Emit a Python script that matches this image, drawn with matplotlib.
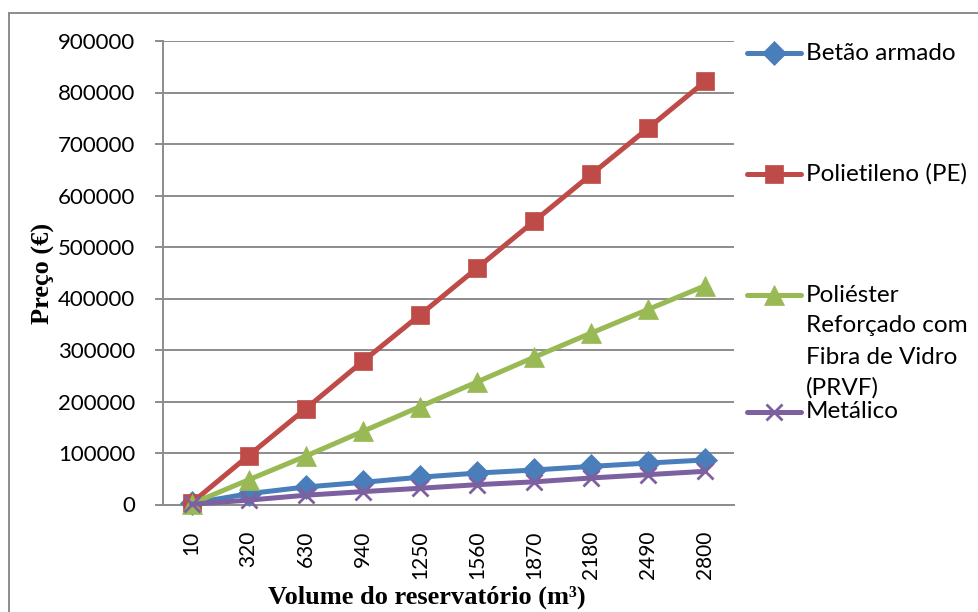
import matplotlib.pyplot as plt
from matplotlib.lines import Line2D

volumes = ["10", "320", "630", "940", "1250", "1560", "1870", "2180", "2490", "2800"]

betao = [2000, 21000, 34000, 43000, 53000, 61000, 67000, 74000, 80500, 86500]
polietileno = [3000, 95000, 186000, 278000, 368000, 459000, 550000, 641000, 731000, 822000]
prvf = [1500, 48000, 94000, 142000, 190000, 238000, 286000, 333000, 379000, 425000]
metalico = [500, 8500, 18000, 25000, 31500, 38500, 44000, 51500, 58000, 64500]

names = ["Betão armado", "Polietileno (PE)",
         "Poliéster\nReforçado com\nFibra de Vidro\n(PRVF)", "Metálico"]
colors = ["#4A7EBB", "#BE4B48", "#98B954", "#7D60A0"]
markers = ["D", "s", "^", "x"]
msizes = [12, 13, 14, 12]

plt.rcParams['font.family'] = ['Lato', 'DejaVu Sans']

W, H = 979, 612
fig = plt.figure(figsize=(W / 100, H / 100), dpi=100)
ax = fig.add_axes([163 / W, 1 - 504.5 / H, (734 - 163) / W, (504.5 - 41) / H])

x = range(len(volumes))
series = [betao, polietileno, prvf, metalico]
for vals, c, m, ms in zip(series, colors, markers, msizes):
    ax.plot(x, vals, color=c, lw=3.6, marker=m, markersize=ms,
            markeredgewidth=2 if m == "x" else 0.5, markeredgecolor=c,
            solid_capstyle="round", clip_on=False, zorder=3)

ax.set_xlim(-0.5, 9.5)
ax.set_ylim(0, 900000)
ax.set_yticks(range(0, 900001, 100000))
ax.set_yticklabels([str(v) for v in range(0, 900001, 100000)])
ax.set_xticks(list(x))
ax.set_xticklabels(volumes, rotation=90)

ax.grid(axis="y", color="#8C8C8C", lw=1.4)
ax.set_axisbelow(True)
for s in ["top", "right"]:
    ax.spines[s].set_visible(False)
for s in ["left", "bottom"]:
    ax.spines[s].set_color("#8C8C8C")
    ax.spines[s].set_linewidth(1.4)

ax.tick_params(axis="y", length=6, width=1.4, color="#8C8C8C", pad=14, labelsize=16)
ax.tick_params(axis="x", length=0, pad=19, labelsize=15)

# axis titles
fig.text(427 / W, 1 - 597 / H, "Volume do reservatório (m³)", family="Liberation Serif",
         fontweight="bold", fontsize=19, ha="center", va="center")
fig.text(43 / W, 1 - 273 / H, "Preço (€)", family="Liberation Serif",
         fontweight="bold", fontsize=19, ha="center", va="center", rotation=90)

# legend drawn by hand so the marker sits on the first line of each label
leg_y = [53, 174, 295, 412]
for name, c, m, ms, yy in zip(names, colors, markers, msizes, leg_y):
    fy = 1 - yy / H
    fig.add_artist(Line2D([747 / W, 801 / W], [fy, fy], color=c, lw=3.6,
                          solid_capstyle="round"))
    fig.add_artist(Line2D([774 / W], [fy], color=c, marker=m, markersize=ms,
                          markeredgewidth=2 if m == "x" else 0.5, markeredgecolor=c))
    for i, line in enumerate(name.split("\n")):
        fig.text(806 / W, 1 - (yy + i * 31) / H, line, fontsize=17.5,
                 ha="left", va="center")

# chart frame
fig.add_artist(Line2D([9 / W, 1], [1 - 13 / H, 1 - 13 / H], color="#8C8C8C", lw=1.4))
fig.add_artist(Line2D([9 / W, 9 / W], [0, 1 - 13 / H], color="#8C8C8C", lw=1.4))

fig.savefig("out.png", dpi=100)
